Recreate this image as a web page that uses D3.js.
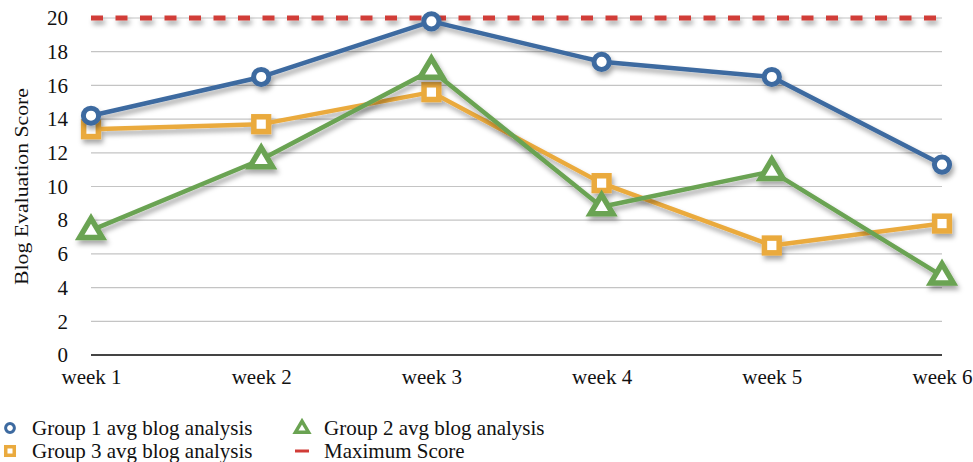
<!DOCTYPE html>
<html>
<head>
<meta charset="utf-8">
<script src="https://cdn.jsdelivr.net/npm/d3@7"></script>
<style>
  body { margin: 0; background: #fff; }
  svg { display: block; font-family: "Liberation Serif", "DejaVu Serif", serif; }
</style>
</head>
<body>
<div class="chart"></div>
<script>
var weeks = ["week 1", "week 2", "week 3", "week 4", "week 5", "week 6"];
var group1 = [14.2, 16.5, 19.8, 17.4, 16.5, 11.3];
var group2 = [7.4, 11.6, 16.9, 8.8, 10.9, 4.7];
var group3 = [13.4, 13.7, 15.6, 10.2, 6.5, 7.8];
var maxScore = 20;
var yTicks = [0, 2, 4, 6, 8, 10, 12, 14, 16, 18, 20];

var width = 973, height = 462;
var margin = {left: 91, right: 31, top: 18, bottom: 107};

var svg = d3.select(".chart")
    .append("svg")
    .attr("width", width)
    .attr("height", height);

// drop shadow like the original office chart (user space so flat lines keep it)
var defs = svg.append("defs");
defs.append("filter")
    .attr("id", "shadow")
    .attr("filterUnits", "userSpaceOnUse")
    .attr("x", 0).attr("y", 0)
    .attr("width", width).attr("height", height)
    .append("feDropShadow")
    .attr("dx", 2).attr("dy", 4)
    .attr("stdDeviation", 2.5)
    .attr("flood-color", "#000")
    .attr("flood-opacity", 0.35);

var x = d3.scalePoint()
    .domain(weeks)
    .range([margin.left, width - margin.right]);

var y = d3.scaleLinear()
    .domain([0, 20])
    .range([height - margin.bottom, margin.top]);

// gridlines
svg.append("g")
    .selectAll("line")
    .data(yTicks.filter(function(d) { return d > 0; }))
    .enter()
    .append("line")
    .attr("x1", margin.left)
    .attr("x2", width - margin.right)
    .attr("y1", function(d) { return y(d); })
    .attr("y2", function(d) { return y(d); })
    .style("stroke", "#c4c4c4")
    .style("stroke-width", 1.2);

// y axis labels
var yAxis = svg.append("g")
    .attr("transform", "translate(" + (margin.left - 23) + ",0)")
    .call(d3.axisLeft(y).tickValues(yTicks).tickSize(0).tickPadding(0));
yAxis.select(".domain").remove();
yAxis.selectAll("text")
    .style("font-size", "21px")
    .style("fill", "#111")
    .style("font-family", "Liberation Serif, serif");

// x axis
var xAxis = svg.append("g")
    .attr("transform", "translate(0," + y(0) + ")")
    .call(d3.axisBottom(x).tickSize(0).tickPadding(14));
xAxis.select(".domain")
    .attr("d", "M" + margin.left + ",0H" + (width - margin.right))
    .style("stroke", "#444")
    .style("stroke-width", 2);
xAxis.selectAll("text")
    .style("font-size", "21px")
    .style("fill", "#111")
    .style("font-family", "Liberation Serif, serif");

// axis title
svg.append("text")
    .attr("transform", "translate(28," + y(10) + ") rotate(-90)")
    .attr("text-anchor", "middle")
    .attr("textLength", 197)
    .attr("lengthAdjust", "spacingAndGlyphs")
    .style("font-size", "19px")
    .style("fill", "#111")
    .text("Blog Evaluation Score");

var line = d3.line()
    .x(function(d, i) { return x(weeks[i]); })
    .y(function(d) { return y(d); });

// maximum score line
svg.append("line")
    .attr("x1", x(weeks[0]))
    .attr("x2", x(weeks[weeks.length - 1]))
    .attr("y1", y(maxScore))
    .attr("y2", y(maxScore))
    .attr("filter", "url(#shadow)")
    .style("stroke", "#d13c37")
    .style("stroke-width", 5)
    .style("stroke-dasharray", "12,12.5");

var series = [
    {name: "Group 1 avg blog analysis", values: group1, color: "#3d6aa0", shape: "circle"},
    {name: "Group 3 avg blog analysis", values: group3, color: "#eaaa3e", shape: "square"},
    {name: "Group 2 avg blog analysis", values: group2, color: "#6aa352", shape: "triangle"}
];

function marker(g, shape, color, size, sw) {
    if (shape === "circle") {
        g.append("circle").attr("r", size * 0.8)
            .style("fill", "#fff").style("stroke", color).style("stroke-width", sw);
    } else if (shape === "square") {
        var s = size * 1.55;
        g.append("rect").attr("x", -s / 2).attr("y", -s / 2)
            .attr("width", s).attr("height", s)
            .style("fill", "#fff").style("stroke", color).style("stroke-width", sw + 0.5);
    } else {
        var r = size * 1.25;
        g.append("path")
            .attr("d", "M0," + (-r) + "L" + (r * 0.95) + "," + (r * 0.6) + "L" + (-r * 0.95) + "," + (r * 0.6) + "Z")
            .style("fill", "#fff").style("stroke", color).style("stroke-width", sw + 0.5)
            .style("stroke-linejoin", "miter");
    }
}

var drawOrder = [series[1], series[2], series[0]];
drawOrder.forEach(function(s) {
    var g = svg.append("g").attr("filter", "url(#shadow)");
    g.append("path")
        .datum(s.values)
        .attr("d", line)
        .style("fill", "none")
        .style("stroke", s.color)
        .style("stroke-width", 4.5)
        .style("stroke-linejoin", "round");
    g.selectAll(".pt")
        .data(s.values)
        .enter()
        .append("g")
        .attr("transform", function(d, i) {
            return "translate(" + x(weeks[i]) + "," + y(d) + ")";
        })
        .each(function() { marker(d3.select(this), s.shape, s.color, 9.5, 5); });
});

// legend
var legendItems = [
    {name: series[0].name, color: series[0].color, shape: "circle", lx: 10, ly: 428},
    {name: series[2].name, color: series[2].color, shape: "triangle", lx: 302, ly: 428},
    {name: series[1].name, color: series[1].color, shape: "square", lx: 10, ly: 451},
    {name: "Maximum Score", color: "#d13c37", shape: "dash", lx: 302, ly: 451}
];

var legend = svg.append("g")
    .selectAll("g")
    .data(legendItems)
    .enter()
    .append("g")
    .attr("transform", function(d) { return "translate(" + d.lx + "," + d.ly + ")"; });

legend.each(function(d) {
    var g = d3.select(this);
    if (d.shape === "dash") {
        g.append("line").attr("x1", -7).attr("x2", 7)
            .style("stroke", d.color).style("stroke-width", 3);
    } else {
        marker(g, d.shape, d.color, 5.5, 3);
    }
});

legend.append("text")
    .attr("x", 22)
    .attr("dy", "0.35em")
    .style("font-size", "21px")
    .style("fill", "#111")
    .text(function(d) { return d.name; });
</script>
</body>
</html>
